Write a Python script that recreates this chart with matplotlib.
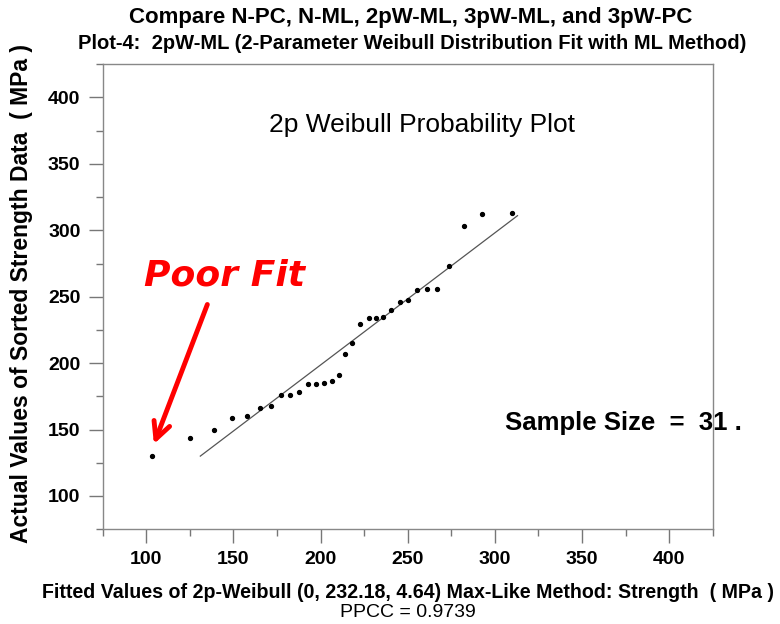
import numpy as np
import matplotlib.pyplot as plt
from matplotlib.ticker import MultipleLocator

# fitted 2p-Weibull quantiles (x) and sorted strength data (y), MPa
fitted = [103.1, 125.3, 138.9, 149.1, 157.5, 165.0, 171.3, 177.3, 182.5, 187.8,
          192.7, 197.5, 202.1, 206.3, 210.3, 214.3, 218.3, 222.9, 227.6, 232.0,
          236.0, 240.6, 245.5, 249.9, 255.3, 261.0, 266.9, 273.7, 282.1, 292.7,
          309.7]
strength = [130.1, 143.8, 149.6, 158.9, 160.4, 165.9, 167.7, 176.2, 176.2, 178.2,
            184.2, 184.2, 184.7, 186.5, 191.0, 206.8, 215.0, 229.3, 233.6, 233.6,
            234.8, 239.8, 246.1, 247.9, 254.9, 255.6, 255.9, 273.2, 303.5, 312.3,
            312.8]

# fitted reference line end points
fit_x = [131, 313]
fit_y = [130, 311]

ticks = [100, 150, 200, 250, 300, 350, 400]

sans = ['Liberation Sans', 'DejaVu Sans']

fig = plt.figure(figsize=(7.8, 6.24), dpi=100)
ax = fig.add_axes([0.1317, 0.152, 0.782, 0.745])

ax.plot(fit_x, fit_y, color='#555555', lw=0.9)
ax.plot(fitted, strength, 'o', color='black', ms=2.8)

ax.set_xlim(75, 425)
ax.set_ylim(75, 425)
ax.set_xticks(ticks)
ax.set_yticks(ticks)
ax.xaxis.set_minor_locator(MultipleLocator(25))
ax.yaxis.set_minor_locator(MultipleLocator(25))
ax.tick_params(which='major', length=10, width=1, color='#777777', pad=6)
ax.tick_params(which='minor', length=5, width=1, color='#777777')
for lab in ax.get_xticklabels() + ax.get_yticklabels():
    lab.set_family(sans)
    lab.set_fontweight('bold')
    lab.set_fontsize(14)
for s in ax.spines.values():
    s.set_color('#888888')
    s.set_linewidth(1)

# titles
cx = 0.1317 + 0.782 / 2
fig.text(cx + 0.004, 0.972, 'Compare N-PC, N-ML, 2pW-ML, 3pW-ML, and 3pW-PC',
         ha='center', va='center', fontsize=16, fontweight='bold', family=sans)
fig.text(cx + 0.006, 0.930, 'Plot-4:  2pW-ML (2-Parameter Weibull Distribution Fit with ML Method)',
         ha='center', va='center', fontsize=14.5, fontweight='bold', family=sans)

ax.text(0.523, 0.869, '2p Weibull Probability Plot', transform=ax.transAxes,
        ha='center', va='center', fontsize=19, family=sans)
ax.text(0.199, 0.546, 'Poor Fit', transform=ax.transAxes, ha='center', va='center',
        fontsize=26, fontweight='bold', style='italic', color='red', family='DejaVu Sans')
ax.annotate('', xy=(103.8, 137.1), xytext=(135.6, 246.1),
            arrowprops=dict(arrowstyle='->', color='red', lw=3.5, mutation_scale=30))

fig.text(0.647, 0.322, 'Sample Size  =  31 .', ha='left', va='center',
         fontsize=18.5, fontweight='bold', family=sans)

# axis labels
fig.text(cx, 0.051, 'Fitted Values of 2p-Weibull (0, 232.18, 4.64) Max-Like Method: Strength  ( MPa )',
         ha='center', va='center', fontsize=14.1, fontweight='bold', family=sans)
fig.text(cx, 0.019, 'PPCC = 0.9739', ha='center', va='center', fontsize=14, family=sans)
fig.text(0.028, 0.152 + 0.745 / 2 + 0.005, 'Actual Values of Sorted Strength Data  ( MPa )',
         ha='center', va='center', rotation=90, fontsize=16.5, fontweight='bold', family=sans)

fig.savefig('out.png', dpi=100)
